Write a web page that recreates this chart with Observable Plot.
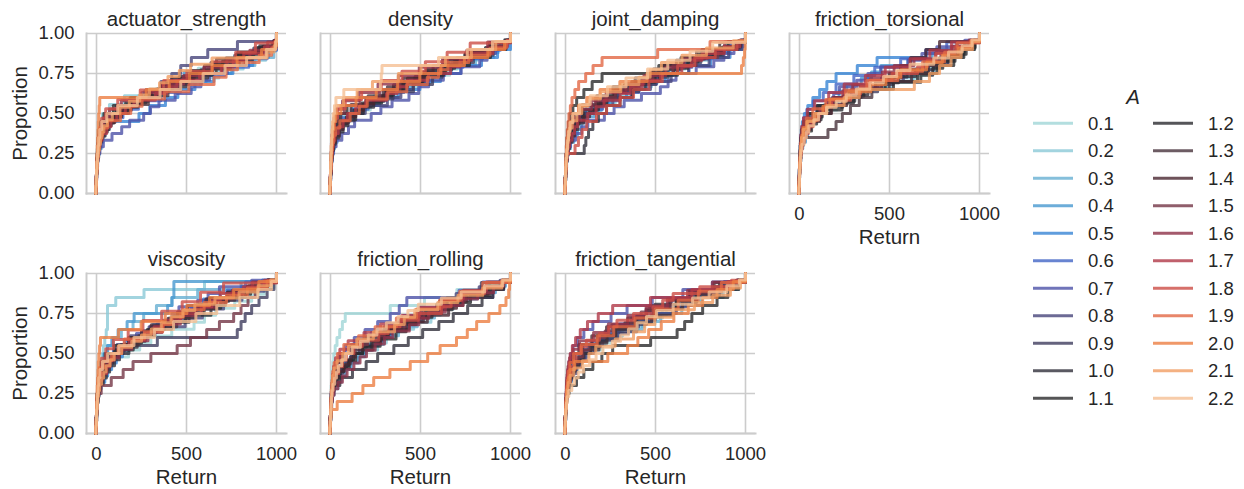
<!DOCTYPE html>
<html><head><meta charset="utf-8">
<script src="https://cdn.jsdelivr.net/npm/d3@7"></script>
<script src="https://cdn.jsdelivr.net/npm/@observablehq/plot@0.6"></script>
<style>
body{margin:0;background:#fff;}
#chart{position:relative;width:1244px;height:489px;background:#fff;font-family:"Liberation Sans",Arial,sans-serif;color:#262626;overflow:hidden}
.panel{position:absolute}
</style></head><body><div id="chart"></div>
<script>
const A_LEVELS = ["0.1","0.2","0.3","0.4","0.5","0.6","0.7","0.8","0.9","1.0","1.1","1.2","1.3","1.4","1.5","1.6","1.7","1.8","1.9","2.0","2.1","2.2"];
const COLORS = ["#a0d6d7","#8bc9d7","#67afd2","#4799cf","#3784d4","#4265c5","#4c51a7","#47457a","#3f3c5e","#31303b","#2b2b2c","#2b2b2f","#48333c","#4a2731","#743646","#8d3147","#b03847","#cc4c45","#e26845","#ec7e42","#f19d63","#f5bf93"];
const FACETS = ["actuator_strength","density","joint_damping","friction_torsional","viscosity","friction_rolling","friction_tangential"];
const X_TICKS = [0, 500, 1000];
const Y_TICKS = [0, 0.25, 0.5, 0.75, 1];

// sorted episode returns per A level (0.1 ... 2.2), one list per facet
const actuatorStrength = [
[-3,-1,0,2,4,7,11,17,26,44,70,95,175,230,290,415,490,565,705,835,962,1000,1000],
[-4,-2,0,1,3,9,13,19,33,72,155,385,520,680,815,940,996,1000],
[-2,-1,1,3,6,10,16,23,37,66,128,212,338,472,610,748,880,985,1000,1000],
[-4,-2,0,2,5,9,15,26,36,48,70,92,130,171,220,268,372,430,488,615,733,862,958,998,1000],
[-3,-1,1,3,6,11,17,31,64,236,296,383,452,547,652,758,868,955,997,1000],
[-4,-2,0,2,5,8,13,37,74,147,233,357,466,583,712,846,948,1000,1000],
[-3,-1,1,3,6,10,19,38,86,140,184,262,300,347,437,526,580,628,727,780,832,927,988,1000],
[-4,-2,0,2,4,7,11,18,31,62,112,193,276,358,418,468,527,618,783,1000],
[-3,-2,0,1,3,6,10,15,25,47,104,150,196,306,404,512,580,636,768,874,983,1000],
[-4,-2,-1,1,3,5,8,13,21,36,60,82,120,168,230,287,340,396,460,525,647,720,786,907,1000,1000],
[-3,-1,0,2,4,6,9,14,23,41,93,187,297,423,537,665,793,913,992,1000],
[-4,-2,0,1,3,5,8,12,19,33,68,110,162,273,330,387,505,643,700,777,897,987,1000],
[-3,-1,0,2,12,18,29,52,102,178,288,397,497,618,744,866,978,1000],
[-4,-2,0,2,4,7,11,17,27,47,70,97,140,193,250,304,360,418,543,600,667,803,924,1000,1000],
[-3,-1,1,3,6,9,13,21,33,61,123,222,343,463,583,698,826,943,996,1000],
[-4,-2,0,2,5,9,14,23,39,72,138,252,362,484,596,724,852,951,1000],
[-3,-1,0,2,4,8,12,19,31,56,80,113,160,208,327,390,447,573,693,760,818,933,991,1000],
[-4,-2,0,4,7,11,17,28,51,118,243,373,502,643,773,883,1000],
[-3,-1,1,3,5,9,14,21,34,62,133,190,253,378,513,653,720,783,904,973,998,1000],
[-4,-2,0,1,2,4,6,8,10,12,15,18,276,404,517,642,781,917,993,1000],
[-3,-1,0,2,4,7,10,15,22,30,41,60,88,130,182,240,294,350,397,460,523,642,948,987,1000,1000],
[-4,-2,0,2,5,8,12,18,29,57,118,227,353,468,592,714,834,943,995,1000]
];
const density = [
[-4,-2,0,2,4,7,11,17,29,52,80,118,221,280,334,447,561,662,720,787,896,973,1000],
[-3,-1,1,3,6,15,24,41,77,151,243,368,481,577,704,816,921,1000],
[-4,-2,0,2,5,8,13,20,33,61,124,236,352,444,553,671,806,907,979,1000],
[-3,-1,1,3,5,9,14,22,37,50,69,100,139,190,257,341,400,466,530,596,688,813,931,987,1000],
[-4,-2,0,2,5,9,15,26,46,94,176,272,376,497,611,723,839,928,1000,1000],
[-3,-1,1,3,6,11,18,31,57,116,209,306,407,529,634,736,846,943,1000],
[-3,-1,1,3,6,10,17,31,63,100,134,226,280,342,436,490,545,627,726,829,870,917,983,1000],
[-4,-2,0,2,5,9,15,27,49,104,193,316,391,458,524,611,704,838,962,1000],
[-3,-1,1,3,5,8,13,21,36,66,132,180,226,347,461,567,620,674,794,903,976,1000],
[-4,-2,0,2,4,7,11,17,27,47,70,97,140,182,240,296,350,414,470,531,643,700,767,884,968,1000],
[-3,-2,0,1,3,6,10,16,26,44,92,197,309,401,514,637,772,889,974,1000],
[-4,-2,0,2,4,6,10,15,24,42,88,130,176,284,340,392,507,628,690,746,861,971,1000],
[-3,-1,1,3,8,12,18,31,57,114,209,316,428,536,657,778,884,1000],
[-4,-2,0,2,4,7,11,17,28,49,70,98,140,183,240,293,350,403,516,570,631,751,877,978,1000],
[-3,-1,0,2,4,6,9,14,22,37,77,164,274,386,498,614,742,864,969,1000],
[-4,-2,0,1,3,5,8,12,19,31,67,157,264,377,493,622,757,873,1000],
[-3,-1,0,2,4,7,10,15,24,43,70,94,140,196,311,370,426,544,667,720,784,902,982,1000],
[-4,-2,0,4,6,9,14,22,39,82,173,282,397,527,648,776,1000],
[-3,-1,1,3,5,8,12,18,28,52,109,160,204,318,424,538,600,652,768,886,977,1000],
[-4,-2,0,1,3,5,8,12,18,29,58,142,254,373,496,613,744,874,967,1000],
[-3,-1,0,2,3,5,7,10,14,21,32,72,148,233,377,503,638,783,918,1000],
[-4,-2,0,1,2,4,6,8,11,15,22,30,74,277,282,286,600,760,900,1000]
];
const jointDamping = [
[-4,-2,0,2,5,9,14,22,37,66,90,127,196,250,308,417,514,580,638,746,853,963,1000],
[-3,-1,1,3,11,18,31,56,104,176,276,364,478,571,664,787,896,1000],
[-4,-2,0,2,4,8,13,20,34,61,113,207,296,398,517,627,734,866,967,1000],
[-3,-1,1,3,6,10,16,27,46,66,88,120,161,200,247,300,353,446,500,566,676,791,904,978,1000],
[-4,-2,0,2,5,8,13,21,36,73,136,236,339,452,554,686,806,914,982,1000],
[-3,-1,1,3,6,11,18,31,57,113,206,294,408,506,598,703,814,916,1000],
[-4,-2,0,2,5,9,16,28,56,90,124,216,270,326,422,527,570,614,726,824,880,936,987,1000],
[-3,-1,1,3,6,10,16,26,46,93,168,263,366,472,587,684,798,906,981,1000],
[-4,-2,0,2,4,8,12,19,31,57,108,150,192,289,407,503,570,637,752,876,972,1000],
[-3,-1,1,3,5,104,113,128,152,183,228,303,372,443,522,603,697,823,948,1000],
[-4,-2,0,1,3,5,8,12,17,25,41,62,102,148,203,518,642,758,903,1000],
[-3,-1,1,3,5,8,12,18,28,52,75,98,183,230,278,392,497,622,680,738,866,962,1000],
[-4,-2,0,2,7,11,17,27,47,93,174,264,387,489,616,728,857,1000],
[-3,-1,1,3,5,9,14,22,37,50,69,100,134,170,216,270,327,424,480,546,648,772,879,973,1000],
[-4,-2,0,2,4,7,11,17,26,45,88,166,277,368,483,597,726,846,957,1000],
[-3,-1,1,3,6,10,15,24,41,77,144,226,336,436,557,658,786,884,1000],
[-4,-2,0,2,5,9,14,22,36,50,66,123,170,214,304,360,427,528,646,700,758,882,968,1000],
[-3,-1,1,3,5,53,72,92,118,172,228,303,378,463,538,623,718,832,952,1000],
[-4,-2,0,1,3,5,7,10,14,19,27,36,52,73,112,153,203,512,803,1000],
[-3,-1,1,3,5,8,12,18,26,41,72,118,192,302,453,978,988,995,998,1000],
[-4,-2,0,2,4,7,10,15,22,37,63,90,126,194,307,408,470,533,647,783,932,1000],
[-3,-1,1,3,8,12,17,25,41,78,137,233,336,456,568,692,818,1000]
];
const frictionTorsional = [
[-4,-2,0,1,3,5,9,15,28,57,80,108,207,260,318,472,637,700,762,838,916,972,1000],
[-3,-1,0,2,7,12,20,37,72,136,246,354,507,648,767,856,918,1000],
[-4,-2,-1,1,3,6,10,17,31,63,124,214,346,478,626,748,842,906,968,1000],
[-3,-1,0,2,4,7,11,18,33,45,61,85,112,150,182,220,262,343,400,452,602,738,852,952,1000],
[-4,-2,-1,0,2,4,6,10,16,27,46,74,112,152,203,321,431,703,878,1000],
[-3,-1,0,1,3,5,8,13,22,41,76,132,203,302,418,562,702,818,1000],
[-4,-2,-1,0,2,4,7,11,18,31,56,75,97,152,190,222,318,380,452,603,680,763,918,1000],
[-3,-1,0,2,4,6,9,15,26,52,98,184,287,423,577,714,826,897,963,1000],
[-4,-2,-1,0,1,3,5,8,14,29,68,110,164,276,434,520,597,744,824,906,966,1000],
[-3,-2,-1,0,1,2,4,7,12,24,45,73,120,173,240,307,380,457,550,643,710,776,847,914,971,1000],
[-4,-2,-1,1,2,4,7,12,22,47,98,194,336,476,656,764,857,913,973,1000],
[-3,-1,0,2,4,7,11,18,33,67,95,126,236,300,358,522,674,740,796,864,926,976,1000],
[-4,-2,0,2,5,10,20,158,203,238,283,332,402,498,622,718,803,868,942,1000],
[-3,-1,1,3,6,10,18,32,61,112,178,262,338,422,498,562,618,702,778,1000],
[-4,-2,0,2,8,13,22,42,84,146,244,336,456,566,694,786,874,1000],
[-3,-1,0,1,3,6,10,16,28,40,54,80,114,150,186,240,296,394,460,526,636,756,846,942,1000],
[-4,-2,-1,1,3,5,8,13,22,44,84,162,248,366,476,614,724,844,1000],
[-3,-1,0,2,4,6,9,15,26,49,75,104,140,178,284,340,388,514,656,710,758,862,952,1000],
[-4,-2,0,4,7,11,19,38,74,146,256,374,546,684,806,876,1000],
[-3,-1,0,1,3,5,8,13,23,45,93,130,168,272,396,480,562,706,794,884,953,1000],
[-4,-2,0,2,4,7,11,20,41,82,152,248,332,638,722,778,842,898,962,1000],
[-3,-1,0,2,3,5,8,14,26,38,52,80,106,150,204,260,316,390,466,540,614,746,828,904,958,1000]
];
const viscosity = [
[-4,-2,0,2,5,9,15,25,46,70,92,178,240,302,418,542,600,662,768,862,932,986,1000],
[-3,-1,1,3,5,8,12,17,23,30,38,46,54,61,61,61,107,264,600,1000],
[-4,-2,0,2,4,7,11,17,26,41,62,92,138,203,262,333,418,562,803,1000],
[-3,-1,1,3,5,8,12,18,28,42,60,85,120,170,209,395,420,430,430,1000],
[-4,-2,0,2,5,9,15,26,46,62,84,110,144,180,216,260,314,406,486,540,594,686,806,922,1000],
[-3,-1,1,3,6,10,16,27,48,94,156,254,336,434,526,616,726,828,1000],
[-4,-2,0,2,4,7,11,17,28,51,70,92,148,190,222,298,382,420,458,562,620,683,862,1000],
[-3,-1,1,3,8,13,20,33,57,114,188,292,492,588,706,808,932,1000],
[-4,-2,0,2,4,7,12,21,36,66,122,338,782,803,826,862,903,948,986,1000],
[-3,-1,1,3,5,9,14,22,38,55,73,100,128,180,226,270,316,370,426,514,570,626,728,846,952,1000],
[-4,-2,0,1,3,6,10,16,26,48,99,178,282,378,496,598,716,828,942,1000],
[-3,-1,0,2,4,7,11,18,31,56,80,108,204,250,298,416,514,636,690,734,856,948,1000],
[-4,-2,0,2,9,14,23,41,77,136,236,324,446,548,662,768,882,1000],
[-3,-1,1,3,5,8,12,19,32,45,62,90,118,160,198,250,304,398,450,506,608,726,838,952,1000],
[-4,-2,0,2,5,26,82,148,203,302,448,522,612,683,762,803,842,882,943,1000],
[-3,-1,1,3,5,9,16,31,62,124,196,286,364,466,554,666,754,866,1000],
[-4,-2,0,2,4,7,11,18,31,57,75,98,140,182,268,320,372,468,582,640,688,816,932,1000],
[-3,-1,0,4,6,10,16,27,52,94,176,258,362,476,578,706,1000],
[-4,-2,0,1,3,5,8,13,22,41,84,120,154,266,368,420,482,598,722,838,948,1000],
[-3,-1,0,1,2,4,6,8,10,13,17,22,122,248,382,502,628,762,902,1000],
[-4,-2,0,2,4,7,11,17,28,40,53,75,98,140,196,250,304,360,414,480,546,658,792,898,968,1000],
[-3,-1,1,3,5,8,12,19,33,62,124,208,322,428,552,668,796,896,972,1000]
];
const frictionRolling = [
[-4,-2,0,1,2,4,6,9,13,18,26,36,51,66,82,332,522,702,878,1000],
[-3,-1,1,3,6,10,16,26,46,88,120,158,262,310,356,462,558,610,666,754,866,952,1000],
[-4,-2,0,2,9,15,28,61,124,196,294,378,482,578,682,778,884,1000],
[-3,-1,1,3,6,11,20,41,60,82,115,154,190,228,280,326,414,470,526,614,726,814,916,972,1000],
[-4,-2,0,2,5,9,16,31,62,114,176,266,338,422,508,612,718,836,952,1000],
[-3,-1,1,3,5,8,13,22,41,78,138,226,308,406,498,616,714,846,1000],
[-4,-2,0,2,4,7,11,17,27,46,82,132,192,262,332,382,424,902,962,1000],
[-3,-1,1,3,5,9,14,22,37,67,90,118,160,202,288,340,386,478,596,650,698,826,942,1000],
[-4,-2,0,4,8,13,21,36,64,128,208,306,398,506,608,726,838,1000],
[-3,-1,1,3,5,7,52,122,198,262,352,432,512,602,682,762,842,902,962,1000],
[-4,-2,0,1,3,6,10,21,46,104,140,178,276,364,420,476,564,676,778,886,962,1000],
[-3,-1,1,3,5,8,13,21,37,55,73,100,128,180,226,270,318,370,422,528,590,646,748,866,956,1000],
[-4,-2,0,2,4,7,11,18,31,56,114,188,296,398,516,618,736,848,952,1000],
[-3,-1,1,3,5,9,14,23,41,77,110,138,236,280,324,436,538,656,700,758,876,957,1000],
[-4,-2,0,2,7,12,19,33,62,114,206,298,416,518,636,748,866,1000],
[-3,-1,1,3,6,11,20,41,66,92,130,164,200,248,300,346,438,490,546,638,736,818,906,962,1000],
[-4,-2,0,2,4,7,11,17,28,52,98,186,278,396,498,626,738,866,1000],
[-3,-1,0,2,4,6,10,15,24,46,66,88,130,176,268,320,386,488,616,670,728,856,952,1000],
[-4,-2,0,3,5,8,12,20,38,74,156,248,366,478,606,718,846,1000],
[-3,0,4,37,120,180,240,330,443,540,609,700,760,812,880,941,975,990,995,1000],
[-3,-1,0,2,3,5,8,12,19,36,68,100,146,238,356,410,468,596,708,846,952,1000],
[-4,-2,0,2,4,6,9,14,23,33,44,62,84,120,166,210,258,310,376,430,488,616,726,856,957,1000]
];
const frictionTangential = [
[-4,-2,0,2,4,7,12,20,36,67,90,118,206,250,298,406,498,560,626,738,866,962,1000],
[-3,-1,1,3,9,14,22,38,72,128,226,318,436,538,656,758,876,1000],
[-4,-2,0,2,5,8,13,21,36,69,124,216,308,426,528,646,756,876,962,1000],
[-3,-1,1,3,5,8,12,19,32,45,62,85,108,150,196,240,288,396,450,498,616,728,856,957,1000],
[-4,-2,0,2,4,7,11,17,28,53,98,186,278,386,478,596,698,826,947,1000],
[-3,-1,1,3,6,12,25,45,71,104,148,226,298,396,478,586,688,816,1000],
[-4,-2,0,2,4,6,9,13,19,28,42,66,102,152,253,342,482,652,882,1000],
[-3,-1,1,3,5,8,13,20,33,62,85,114,160,206,298,350,406,498,616,670,718,846,952,1000],
[-4,-2,0,2,4,7,11,18,30,57,104,140,188,284,396,450,498,616,728,856,957,1000],
[-3,-1,0,2,4,7,11,17,28,40,52,75,98,140,186,230,278,330,396,450,498,626,738,866,962,1000],
[-4,-2,0,2,5,20,61,102,152,202,262,473,620,662,702,762,842,902,962,1000],
[-4,-2,0,4,6,10,16,26,49,94,176,268,386,488,616,728,856,1000],
[-3,-1,1,3,5,8,12,18,29,54,75,98,186,230,278,386,478,596,650,698,826,947,1000],
[-4,-2,0,1,5,8,13,21,39,74,146,228,346,448,576,688,826,1000],
[-3,-1,0,2,4,7,11,17,27,38,49,70,94,130,176,220,258,366,420,468,586,698,836,952,1000],
[-4,-2,0,2,4,6,9,14,22,42,78,156,238,346,448,566,678,816,1000],
[-4,-2,0,1,3,5,8,12,18,26,38,56,82,122,182,262,472,702,902,1000],
[-3,-1,0,1,3,5,8,12,19,33,45,58,85,116,188,240,286,378,486,540,598,746,922,1000],
[-4,-2,0,4,7,10,15,24,45,88,176,268,386,498,626,738,866,1000],
[-3,-1,1,3,6,10,15,25,51,235,345,402,462,532,602,682,762,842,932,1000],
[-3,-1,1,3,5,9,15,25,46,94,130,168,276,378,440,496,598,716,818,916,972,1000],
[-4,-2,0,2,5,10,18,35,50,71,100,134,170,208,260,306,350,398,450,506,598,706,798,896,966,1000]
];
const FACET_DATA = [actuatorStrength, density, jointDamping, frictionTorsional, viscosity, frictionRolling, frictionTangential];

const PANEL_LEFT = [86, 320, 555, 789];
const PANEL_TOP = [33, 273];
const W = 200, H = 160, ML = 86, MR = 24, MT = 33, MB = 56;
const chart = document.getElementById("chart");
const GRID = "#cccccc";

FACETS.forEach((name, i) => {
  const col = i % 4, row = Math.floor(i / 4);
  const showY = col === 0;
  const showX = row === 1 || col === 3;
  const rows = [];
  FACET_DATA[i].forEach((s, j) => {
    const n = s.length;
    rows.push({a: A_LEVELS[j], x: s[0], y: 0});
    s.forEach((v, k) => rows.push({a: A_LEVELS[j], x: v, y: (k + 1) / n}));
  });
  const marks = [
    Plot.gridX(X_TICKS, {stroke: GRID, strokeOpacity: 1, strokeWidth: 1.6}),
    Plot.gridY(Y_TICKS, {stroke: GRID, strokeOpacity: 1, strokeWidth: 1.6}),
    Plot.frame({anchor: "left", stroke: GRID, strokeWidth: 2}),
    Plot.frame({anchor: "bottom", stroke: GRID, strokeWidth: 2}),
    Plot.line(rows, {x: "x", y: "y", z: "a", stroke: "a", curve: "step-after", strokeWidth: 3, strokeOpacity: 0.8}),
    Plot.text([name], {text: d => d, frameAnchor: "top", dy: -14, fontSize: 20.5, textAnchor: "middle", lineAnchor: "middle", fill: "#262626"})
  ];
  if (showY) {
    marks.push(Plot.axisY(Y_TICKS, {tickSize: 0, tickPadding: 12, tickFormat: d3.format(".2f"), fontSize: 18.5, label: null}));
    marks.push(Plot.text(["Proportion"], {text: d => d, frameAnchor: "left", dx: -66, rotate: -90, fontSize: 20.5, textAnchor: "middle", lineAnchor: "middle", fill: "#262626"}));
  }
  if (showX) {
    marks.push(Plot.axisX(X_TICKS, {tickSize: 0, tickPadding: 13, tickFormat: d => String(d), fontSize: 18.5, label: null}));
    marks.push(Plot.text(["Return"], {text: d => d, frameAnchor: "bottom", dy: 43.5, fontSize: 20.5, textAnchor: "middle", lineAnchor: "middle", fill: "#262626"}));
  }
  const svg = Plot.plot({
    width: W + ML + MR, height: H + MT + MB,
    marginLeft: ML, marginRight: MR, marginTop: MT, marginBottom: MB,
    x: {domain: [-55.6, 1055.6], axis: showX ? undefined : null},
    y: {domain: [0, 1], axis: showY ? undefined : null},
    color: {domain: A_LEVELS, range: COLORS},
    style: {fontFamily: '"Liberation Sans", Arial, sans-serif', fontSize: "18.5px", color: "#262626", background: "transparent", overflow: "visible"},
    marks
  });
  const div = document.createElement("div");
  div.className = "panel";
  div.style.left = (PANEL_LEFT[col] - ML) + "px";
  div.style.top = (PANEL_TOP[row] - MT) + "px";
  div.appendChild(svg);
  chart.appendChild(div);
});

// legend
const leg = d3.select(chart).append("svg")
  .attr("width", 230).attr("height", 340)
  .style("position", "absolute").style("left", "1014px").style("top", "80px")
  .style("font-family", '"Liberation Sans", Arial, sans-serif');
leg.append("text").attr("x", 119).attr("y", 17).attr("text-anchor", "middle").attr("dy", "0.35em")
  .style("font-size", "20.5px").style("font-style", "italic").attr("fill", "#262626").text("A");
A_LEVELS.forEach((lv, j) => {
  const c = Math.floor(j / 11), r = j % 11;
  const x0 = 19 + c * 120, y0 = 43.3 + r * 27.5;
  leg.append("line").attr("x1", x0).attr("x2", x0 + 40).attr("y1", y0).attr("y2", y0)
    .attr("stroke", COLORS[j]).attr("stroke-opacity", 0.8).attr("stroke-width", 3);
  leg.append("text").attr("x", x0 + 55).attr("y", y0).attr("dy", "0.35em")
    .style("font-size", "18.5px").attr("fill", "#262626").text(lv);
});
</script></body></html>
